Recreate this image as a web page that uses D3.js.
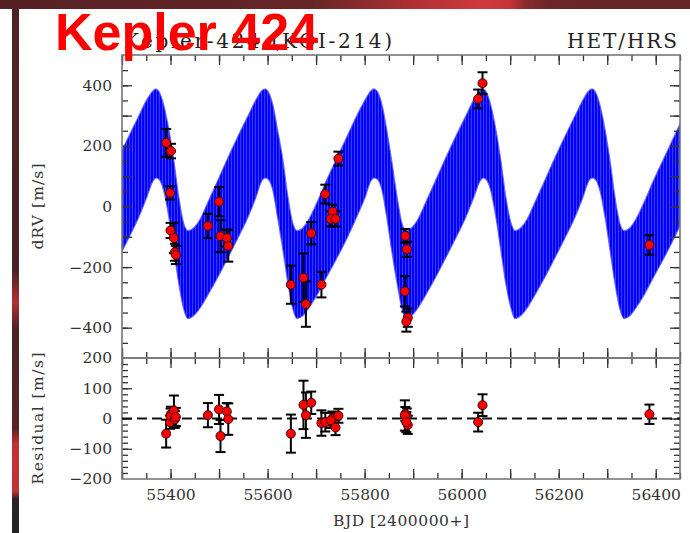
<!DOCTYPE html>
<html>
<head>
<meta charset="utf-8">
<script src="https://cdn.jsdelivr.net/npm/d3@7"></script>
<style>
  html, body { margin: 0; padding: 0; background: #fff; }
  svg { display: block; }
</style>
</head>
<body>
<svg id="chart" width="690" height="533"></svg>
<script>
// HET/HRS radial velocities of Kepler-424 (BJD - 2400000)
const bjd = [55391, 55401, 55399, 55400, 55407, 55409, 55411, 55477, 55500, 55503,
             55516, 55519, 55648, 55674, 55679, 55690, 55711, 55719, 55734, 55730,
             55740, 55746, 55884, 55887, 55883, 55889, 55886, 56034, 56043, 56387];
const rv = [210, 183, 45, -79, -104, -151, -160, -64, 16, -98,
            -104, -130, -258, -235, -322, -88, -258, 41, -17, -41,
            -41, 158, -97, -141, -280, -367, -380, 355, 407, -127];
const rvErr = [46, 24, 22, 25, 50, 28, 30, 40, 48, 53,
               28, 52, 63, 80, 75, 37, 42, 31, 23, 25,
               25, 23, 23, 25, 50, 30, 33, 31, 36, 32];
const resid = [-50, 15, -12, 8, 26, -3, 5, 11, 30, -58,
               23, -2, -50, 45, 11, 52, -15, -12, 0, -6,
               -30, 9, 15, 8, 10, -21, -12, -12, 44, 14];

// Two-planet model: upper and lower envelope of the fast (b) signal riding on planet c
const modelBjd = [
  55293, 55314, 55335, 55351, 55364, 55370, 55376, 55386, 55397, 55407, 55417, 55427,
  55436, 55448, 55461, 55477, 55498, 55518, 55539, 55560, 55576, 55588, 55595, 55601, 55611, 55621, 55632, 55642, 55652,
  55661, 55673, 55685, 55702, 55722, 55743, 55764, 55784, 55801, 55813, 55819, 55826, 55836, 55846, 55856, 55867, 55877,
  55885, 55897, 55910, 55926, 55947, 55967, 55988, 56009, 56025, 56038, 56044, 56050, 56060, 56071, 56081, 56091, 56102,
  56110, 56122, 56135, 56151, 56172, 56192, 56213, 56234, 56250, 56262, 56269, 56275, 56285, 56296, 56306, 56316, 56326,
  56335, 56347, 56359, 56376, 56396, 56417, 56438, 56458];
const modelUpper = [
  162, 232, 300, 352, 382, 388, 380, 335, 250, 150, 32, -55,
  -80, -70, -42, 14, 88, 160, 232, 300, 352, 382, 388, 380, 335, 250, 150, 32, -55,
  -80, -70, -42, 14, 88, 160, 232, 300, 352, 382, 388, 380, 335, 250, 150, 32, -55,
  -80, -70, -42, 14, 88, 160, 232, 300, 352, 382, 388, 380, 335, 250, 150, 32, -55,
  -80, -70, -42, 14, 88, 160, 232, 300, 352, 382, 388, 380, 335, 250, 150, 32, -55,
  -80, -70, -42, 14, 88, 160, 232, 300];
const modelLower = [
  -170, -104, -34, 30, 84, 94, 90, 52, -40, -148, -255, -338,
  -370, -360, -335, -292, -232, -170, -104, -34, 30, 84, 94, 90, 52, -40, -148, -255, -338,
  -370, -360, -335, -292, -232, -170, -104, -34, 30, 84, 94, 90, 52, -40, -148, -255, -338,
  -370, -360, -335, -292, -232, -170, -104, -34, 30, 84, 94, 90, 52, -40, -148, -255, -338,
  -370, -360, -335, -292, -232, -170, -104, -34, 30, 84, 94, 90, 52, -40, -148, -255, -338,
  -370, -360, -335, -292, -232, -170, -104, -34];

const xTicksMajor = d3.range(55300, 56451, 100);
const xTicksMinor = d3.range(55300, 56451, 50);
const xLabels = [55400, 55600, 55800, 56000, 56200, 56400];
const rvTicksMajor = d3.range(-400, 401, 100);
const rvTicksMinor = d3.range(-450, 451, 50);
const rvLabels = [-400, -200, 0, 200, 400];
const resTicksMajor = [-100, 0, 100];
const resTicksMinor = d3.range(-180, 181, 20);
const resLabels = [-200, -100, 0, 100, 200];

const svg = d3.select("#chart");
const serif = "'DejaVu Serif', serif";
const fmt = v => (v < 0 ? "\u2212" + Math.abs(v) : String(v));

// ---- slide decoration ----
const defs = svg.append("defs");
const topGrad = defs.append("linearGradient").attr("id", "topBand");
[[0, "#552124"], [0.45, "#662527"], [0.6, "#b03033"], [0.7, "#d0393b"],
 [0.74, "#c43436"], [0.76, "#8a2b2d"], [0.8, "#6a2628"], [1, "#662527"]]
  .forEach(([o, c]) => topGrad.append("stop").attr("offset", o).attr("stop-color", c));
const sideGrad = defs.append("linearGradient").attr("id", "sideBand")
  .attr("x1", 0).attr("x2", 0).attr("y1", 0).attr("y2", 1);
[[0, "#4f2326"], [0.5, "#4a2224"], [0.56, "#b53033"], [0.61, "#4a2325"],
 [0.8, "#5a2426"], [0.83, "#c23235"], [0.92, "#c03234"], [0.935, "#2a2424"], [1, "#262323"]]
  .forEach(([o, c]) => sideGrad.append("stop").attr("offset", o).attr("stop-color", c));

svg.append("rect").attr("x", 0).attr("y", 0).attr("width", 690).attr("height", 9).attr("fill", "url(#topBand)");
svg.append("rect").attr("x", 12).attr("y", 9).attr("width", 7).attr("height", 524).attr("fill", "url(#sideBand)");

// ---- scales ----
const x = d3.scaleLinear().domain([55300, 56450]).range([122, 680]);
const yTop = d3.scaleLinear().domain([-500, 500]).range([358, 55]);
const yRes = d3.scaleLinear().domain([-200, 200]).range([479, 358]);

// ---- model band ----
const streak = defs.append("pattern").attr("id", "streak")
  .attr("patternUnits", "userSpaceOnUse").attr("width", 3).attr("height", 8);
streak.append("rect").attr("width", 3).attr("height", 8).attr("fill", "#0202f8");
streak.append("rect").attr("width", 1).attr("height", 8).attr("fill", "#3a3aff");

defs.append("clipPath").attr("id", "clipTop").append("rect")
  .attr("x", 122).attr("y", 55).attr("width", 558).attr("height", 303);

const band = modelBjd.map((t, i) => ({ t, hi: modelUpper[i], lo: modelLower[i] }));
const area = d3.area().curve(d3.curveMonotoneX)
  .x(d => x(d.t)).y0(d => yTop(d.lo)).y1(d => yTop(d.hi));
svg.append("path").datum(band).attr("clip-path", "url(#clipTop)")
  .attr("d", area).attr("fill", "url(#streak)")
  .attr("stroke", "#5b5bff").attr("stroke-width", 1.2).attr("stroke-opacity", 0.8);

// ---- axes (inward ticks on all four sides of each panel) ----
function tickSet(g, axis, vals, size) {
  g.call(axis.tickValues(vals).tickSize(-size).tickFormat(""));
  g.select(".domain").remove();
  g.selectAll(".tick line").attr("stroke", "#333").attr("stroke-width", 1.3);
}
function addAxis(axisFn, scale, tr, minor, major, minorLen, majorLen) {
  tickSet(svg.append("g").attr("transform", tr), axisFn(scale), minor, minorLen);
  tickSet(svg.append("g").attr("transform", tr), axisFn(scale), major, majorLen);
}
// x ticks
addAxis(d3.axisTop, x, "translate(0,55)", xTicksMinor, xTicksMajor, 6, 10);
addAxis(d3.axisBottom, x, "translate(0,358)", xTicksMinor, xTicksMajor, 6, 10);
addAxis(d3.axisTop, x, "translate(0,358)", xTicksMinor, xTicksMajor, 6, 10);
addAxis(d3.axisBottom, x, "translate(0,479)", xTicksMinor, xTicksMajor, 6, 10);
// y ticks
addAxis(d3.axisLeft, yTop, "translate(122,0)", rvTicksMinor, rvTicksMajor, 6, 10);
addAxis(d3.axisRight, yTop, "translate(680,0)", rvTicksMinor, rvTicksMajor, 6, 10);
addAxis(d3.axisLeft, yRes, "translate(122,0)", resTicksMinor, resTicksMajor, 6, 10);
addAxis(d3.axisRight, yRes, "translate(680,0)", resTicksMinor, resTicksMajor, 6, 10);

// tick labels
function labels(axis, tr, vals) {
  const g = svg.append("g").attr("transform", tr)
    .call(axis.tickValues(vals).tickSize(0).tickPadding(10).tickFormat(fmt));
  g.select(".domain").remove();
  g.selectAll(".tick line").remove();
  g.selectAll("text").attr("font-family", serif).attr("font-size", 15.5).attr("fill", "#333");
  return g;
}
labels(d3.axisBottom(x), "translate(0,479)", xLabels);
labels(d3.axisLeft(yTop), "translate(122,0)", rvLabels);
labels(d3.axisLeft(yRes), "translate(122,0)", resLabels);

// frames
svg.append("rect").attr("x", 122).attr("y", 55).attr("width", 558).attr("height", 303)
  .attr("fill", "none").attr("stroke", "#777").attr("stroke-width", 1.6);
svg.append("rect").attr("x", 122).attr("y", 358).attr("width", 558).attr("height", 121)
  .attr("fill", "none").attr("stroke", "#777").attr("stroke-width", 1.6);

// zero line in residual panel
svg.append("line")
  .attr("x1", x.range()[0]).attr("x2", x.range()[1])
  .attr("y1", yRes(0)).attr("y2", yRes(0))
  .attr("stroke", "#111").attr("stroke-width", 2).attr("stroke-dasharray", "10,5");

// ---- data points with error bars ----
const pts = bjd.map((t, i) => ({ t, v: rv[i], e: rvErr[i], r: resid[i] }));
function drawPoints(yScale, key) {
  const g = svg.append("g");
  const bars = g.selectAll("g.eb").data(pts).join("g").attr("class", "eb")
    .attr("stroke", "#000").attr("stroke-width", 2);
  bars.append("line").attr("x1", d => x(d.t)).attr("x2", d => x(d.t))
    .attr("y1", d => yScale(d[key] - d.e)).attr("y2", d => yScale(d[key] + d.e));
  bars.append("line").attr("x1", d => x(d.t) - 5).attr("x2", d => x(d.t) + 5)
    .attr("y1", d => yScale(d[key] - d.e)).attr("y2", d => yScale(d[key] - d.e));
  bars.append("line").attr("x1", d => x(d.t) - 5).attr("x2", d => x(d.t) + 5)
    .attr("y1", d => yScale(d[key] + d.e)).attr("y2", d => yScale(d[key] + d.e));
  g.selectAll("circle").data(pts).join("circle")
    .attr("cx", d => x(d.t)).attr("cy", d => yScale(d[key])).attr("r", 4.5)
    .attr("fill", "#ff0000").attr("stroke", "#3a0000").attr("stroke-width", 1);
}
drawPoints(yTop, "v");
drawPoints(yRes, "r");

// ---- titles and axis labels ----
function label(txt, opts) {
  const t = svg.append("text").attr("font-family", serif).attr("fill", opts.fill || "#333")
    .attr("font-size", opts.size).attr("text-anchor", opts.anchor || "start")
    .attr("textLength", opts.len).attr("lengthAdjust", "spacing").text(txt);
  if (opts.rotate) t.attr("transform", `translate(${opts.x},${opts.y}) rotate(-90)`);
  else t.attr("x", opts.x).attr("y", opts.y);
  return t;
}
label("Kepler-424 (KOI-214)", { x: 124, y: 48, size: 20, len: 268, fill: "#222" });
label("HET/HRS", { x: 677, y: 48, size: 20, len: 110, anchor: "end", fill: "#222" });
label("BJD [2400000+]", { x: 401, y: 526, size: 15.5, len: 136, anchor: "middle" });
label("dRV [m/s]", { x: 43, y: yTop(0), size: 15.5, len: 86, anchor: "middle", rotate: true });
label("Residual [m/s]", { x: 43, y: yRes(0), size: 15.5, len: 132, anchor: "middle", rotate: true });

// slide headline
svg.append("text").attr("x", 55).attr("y", 50)
  .attr("font-family", "'Liberation Sans', Arial, sans-serif").attr("font-weight", "bold")
  .attr("font-size", 52).attr("fill", "#ff0000").text("Kepler 424");
</script>
</body>
</html>
